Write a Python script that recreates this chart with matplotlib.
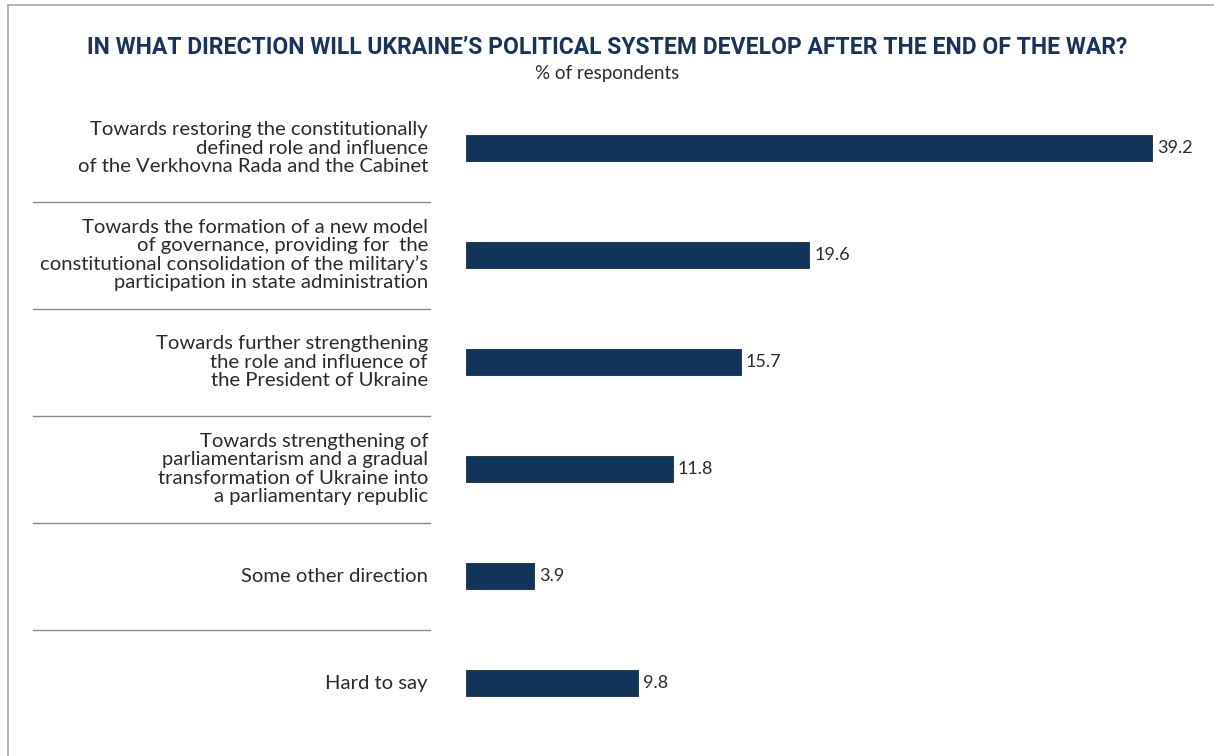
import matplotlib

matplotlib.use('agg')

from matplotlib import pyplot as plt
from matplotlib.transforms import blended_transform_factory

categories = [
    "Towards restoring the constitutionally\ndefined role and influence\nof the Verkhovna Rada and the Cabinet",
    "Towards the formation of a new model\nof governance, providing for  the\nconstitutional consolidation of the military\u2019s\nparticipation in state administration",
    "Towards further strengthening\nthe role and influence of\nthe President of Ukraine",
    "Towards strengthening of\nparliamentarism and a gradual\ntransformation of Ukraine into\na parliamentary republic",
    "Some other direction",
    "Hard to say",
]
values = [39.2, 19.6, 15.7, 11.8, 3.9, 9.8]

title = "IN WHAT DIRECTION WILL UKRAINE\u2019S POLITICAL SYSTEM DEVELOP AFTER THE END OF THE WAR?"
subtitle = "% of respondents"

W, H = 1214, 756
bar_color = "#13345a"
text_color = "#2b2b2b"
font = "Lato"

fig = plt.figure(figsize=(W / 100, H / 100), dpi=100)
fig.patch.set_facecolor("white")

# axes placed so bars start at x=466 px and rows sit 107 px apart
ax = fig.add_axes([466 / W, (H - 736.5) / H, 735 / W, 642 / H])
ys = list(range(len(values)))
ax.barh(ys, values, height=0.235, color=bar_color, edgecolor="#1c2a3a", linewidth=0.6)
ax.set_xlim(0, 42)
ax.set_ylim(len(values) - 0.5, -0.5)
ax.axis("off")

for y, v in zip(ys, values):
    ax.text(v + 0.3, y, f"{v}", va="center", ha="left", fontsize=13,
            color=text_color, family=font)

tr = blended_transform_factory(fig.transFigure, ax.transData)
for y, lab in zip(ys, categories):
    ax.text(428 / W, y, lab, transform=tr, ha="right", va="center",
            fontsize=14.6, color=text_color, family=font,
            linespacing=1.08, multialignment="right")

# separators between rows
for y in ys[:-1]:
    ax.plot([33 / W, 430 / W], [y + 0.5, y + 0.5], transform=tr, color="#8a8a8a",
            linewidth=1.0, clip_on=False)

# thin frame at top and left
fig.add_artist(plt.Line2D([8 / W, 1], [1 - 5 / H, 1 - 5 / H], transform=fig.transFigure,
                          color="#a8a8a8", linewidth=1.2))
fig.add_artist(plt.Line2D([8 / W, 8 / W], [0, 1 - 5 / H], transform=fig.transFigure,
                          color="#a8a8a8", linewidth=1.2))

fig.text(607 / W, 1 - 47 / H, title, ha="center", va="center", fontsize=16.5,
         fontweight="bold", color="#1b3358", family="Roboto")
fig.text(607 / W, 1 - 73 / H, subtitle, ha="center", va="center", fontsize=13.5,
         color=text_color, family=font)

fig.savefig("out.png", dpi=100)
